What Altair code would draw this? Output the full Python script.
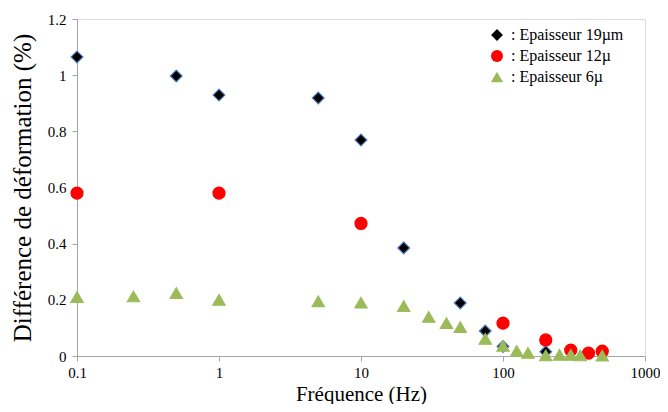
import altair as alt
import pandas as pd

series_labels = [": Epaisseur 19µm", ": Epaisseur 12µ", ": Epaisseur 6µ"]

freq_19 = [0.1, 0.5, 1, 5, 10, 20, 50, 75, 100, 200]
val_19 = [1.065, 0.997, 0.929, 0.919, 0.769, 0.385, 0.189, 0.089, 0.034, 0.015]

freq_12 = [0.1, 1, 10, 100, 200, 300, 400, 500]
val_12 = [0.58, 0.58, 0.472, 0.117, 0.057, 0.021, 0.01, 0.017]

freq_6 = [0.1, 0.25, 0.5, 1, 5, 10, 20, 30, 40, 50, 75, 100, 125, 150, 200, 250, 300, 350, 500]
val_6 = [0.21, 0.212, 0.224, 0.2, 0.195, 0.19, 0.178, 0.139, 0.117, 0.103, 0.061, 0.036,
         0.018, 0.011, 0.002, 0.004, 0.004, 0.002, 0.001]

rows = []
for lab, fs, vs in zip(series_labels, [freq_19, freq_12, freq_6], [val_19, val_12, val_6]):
    for f, v in zip(fs, vs):
        rows.append({"serie": lab, "freq": f, "val": v})
df = pd.DataFrame(rows)

font = "'Liberation Serif', 'Times New Roman', Times, serif"
axis_col = "#a6a6a6"

legend_kw = dict(title=None, orient="none", legendX=412, legendY=8,
                 labelFont=font, labelFontSize=16, labelColor="black",
                 symbolSize=60, symbolStrokeWidth=0, rowPadding=5, labelOffset=6)

chart = alt.Chart(df).mark_point(filled=True, opacity=1, strokeWidth=1.2).encode(
    x=alt.X("freq:Q",
            scale=alt.Scale(type="log", domain=[0.1, 1000], nice=False),
            axis=alt.Axis(values=[0.1, 1, 10, 100, 1000], format="~g", title="Fréquence (Hz)",
                          grid=False, domainColor=axis_col, tickColor=axis_col, tickSize=5,
                          labelFont=font, labelFontSize=15, labelColor="black", labelPadding=4,
                          labelBound=False, labelOverlap=False, labelFlush=False,
                          titleFont=font, titleFontSize=21, titleFontWeight="normal",
                          titleColor="black", titlePadding=3)),
    y=alt.Y("val:Q",
            scale=alt.Scale(domain=[0, 1.2], nice=False),
            axis=alt.Axis(values=[0, 0.2, 0.4, 0.6, 0.8, 1.0, 1.2], format="~g",
                          title="Différence de déformation (%)",
                          grid=False, domainColor=axis_col, tickColor=axis_col, tickSize=5,
                          labelFont=font, labelFontSize=15, labelColor="black", labelPadding=6,
                          labelFlush=False,
                          titleFont=font, titleFontSize=25, titleFontWeight="normal",
                          titleColor="black", titlePadding=12)),
    shape=alt.Shape("serie:N",
                    scale=alt.Scale(domain=series_labels, range=["diamond", "circle", "triangle-up"]),
                    legend=alt.Legend(**legend_kw)),
    color=alt.Color("serie:N",
                    scale=alt.Scale(domain=series_labels, range=["black", "#ff0000", "#9bbb59"]),
                    legend=alt.Legend(**legend_kw)),
    stroke=alt.Stroke("serie:N",
                      scale=alt.Scale(domain=series_labels, range=["#4f81bd", "#ff0000", "#9bbb59"]),
                      legend=None),
    size=alt.Size("serie:N",
                  scale=alt.Scale(domain=series_labels, range=[140, 150, 170]),
                  legend=None),
).properties(
    width=568, height=337,
    autosize=alt.AutoSizeParams(type="none"),
    padding={"left": 69, "top": 11, "right": 15, "bottom": 48},
).configure_view(stroke=None).configure(background="white")

chart.save("out.html", embed_options={"renderer": "svg", "actions": False})
